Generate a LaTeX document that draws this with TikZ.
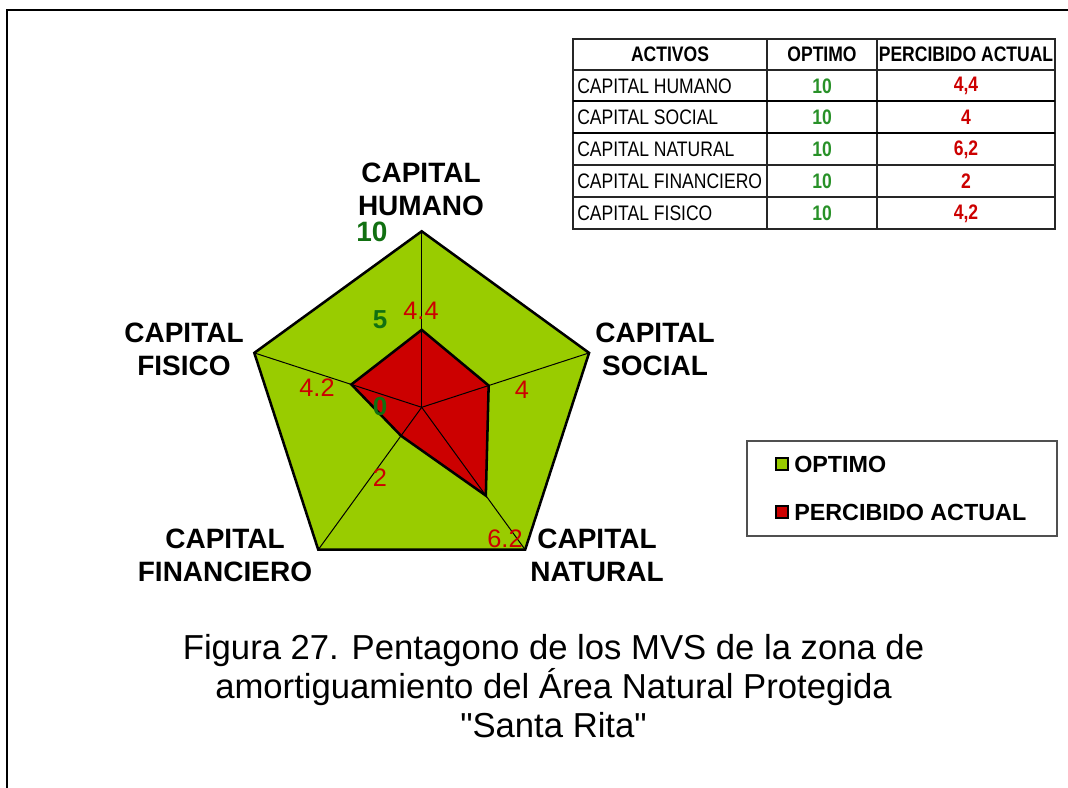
\documentclass[tikz,border=0pt]{standalone}
\usepackage{fontspec}
\setmainfont{Liberation Sans}
\newfontfamily\narrowfont[FakeStretch=0.835]{Liberation Sans}
\newfontfamily\plainquotefont[Ligatures=TeXOff]{Liberation Sans}
\definecolor{optgreen}{RGB}{153,204,0}
\definecolor{actred}{RGB}{204,0,0}
\definecolor{lblgreen}{RGB}{17,112,17}
\definecolor{tabgreen}{RGB}{40,145,40}
\definecolor{legline}{RGB}{80,80,80}
\tikzset{
  axislbl/.style={font=\bfseries\fontsize{21}{24.75}\selectfont, align=center, inner sep=0pt},
  redval/.style={text=actred, font=\fontsize{19}{21}\selectfont, inner sep=0pt},
  greenval/.style={text=lblgreen, font=\bfseries\fontsize{19.5}{22}\selectfont, inner sep=0pt},
  tabtxt/.style={font=\narrowfont\fontsize{15.75}{18}\selectfont, inner sep=0pt},
  tabhead/.style={font=\narrowfont\bfseries\fontsize{15.75}{18}\selectfont, inner sep=0pt},
  tabopt/.style={tabtxt, text=tabgreen, font=\narrowfont\bfseries\fontsize{15.75}{18}\selectfont},
  tabact/.style={tabtxt, text=actred, font=\narrowfont\bfseries\fontsize{15.75}{18}\selectfont},
  tabline/.style={line width=0.8pt, black!85},
  legtxt/.style={font=\bfseries\fontsize{17.5}{20}\selectfont, inner sep=0pt, anchor=west},
  captxt/.style={font=\fontsize{26}{30}\selectfont, inner sep=0pt, anchor=base},
  spoke/.style={line width=0.75pt, black},
  outline/.style={line width=1.9pt, black, line join=miter}
}
\begin{document}
\begin{tikzpicture}[x=0.75pt, y=-0.75pt]
\useasboundingbox (0,0) rectangle (1068,788);
% frame
\draw[line width=1.2pt] (1068,10) -- (7,10) -- (7,788);

% pentagon coordinates
\begin{scope}[shift={(421.7,407.3)}]
  \coordinate (C) at (0,0);
  \coordinate (pH) at (-90:176);
  \coordinate (pS) at (-18:176);
  \coordinate (pN) at (54:176);
  \coordinate (pF) at (126:176);
  \coordinate (pFi) at (198:176);
  \coordinate (aH) at (-90:77.44);
  \coordinate (aS) at (-18:70.4);
  \coordinate (aN) at (54:109.12);
  \coordinate (aF) at (126:35.2);
  \coordinate (aFi) at (198:73.92);
\end{scope}

\fill[optgreen] (pH) -- (pS) -- (pN) -- (pF) -- (pFi) -- cycle;
\fill[actred] (aH) -- (aS) -- (aN) -- (aF) -- (aFi) -- cycle;
\draw[spoke] (C) -- (pH);
\draw[spoke] (C) -- (pS);
\draw[spoke] (C) -- (pN);
\draw[spoke] (C) -- (pF);
\draw[spoke] (C) -- (pFi);
\draw[outline] (aH) -- (aS) -- (aN) -- (aF) -- (aFi) -- cycle;
\draw[outline] (pH) -- (pS) -- (pN) -- (pF) -- (pFi) -- cycle;

% axis labels
\node[axislbl] (lH) at (421,189) {CAPITAL\\HUMANO};
\node[axislbl] (lS) at (655,349.5) {CAPITAL\\SOCIAL};
\node[axislbl] (lN) at (597,555) {CAPITAL\\NATURAL};
\node[axislbl] (lF) at (225,555) {CAPITAL\\FINANCIERO};
\node[axislbl] (lFi) at (184,349) {CAPITAL\\FISICO};

% scale values
\node[text=lblgreen, font=\bfseries\fontsize{21}{24}\selectfont, inner sep=0pt] (v10) at (372,232) {10};
\node[greenval] (v5) at (380,320) {5};
\node[greenval] (v0) at (380,407) {0};

% data values
\node[redval] (dH) at (421,311) {4.4};
\node[redval] (dS) at (522,390) {4};
\node[redval] (dN) at (505,539) {6.2};
\node[redval] (dF) at (380,478) {2};
\node[redval] (dFi) at (317,388) {4.2};

% table
\draw[tabline] (573,39) rectangle (1055,229);
\draw[tabline] (767,39) -- (767,229);
\draw[tabline] (877,39) -- (877,229);
\draw[tabline] (573,70) -- (1055,70);
\draw[line width=1.3pt, black] (573,101) -- (1055,101);
\draw[line width=1.3pt, black] (573,133) -- (1055,133);
\draw[tabline] (573,165) -- (1055,165);
\draw[tabline] (573,197) -- (1055,197);

\node[tabhead] (h1) at (670,54.5) {ACTIVOS};
\node[tabhead] (h2) at (822,54.5) {OPTIMO};
\node[tabhead] (h3) at (966,54.5) {PERCIBIDO ACTUAL};

\node[tabtxt, anchor=west] (r1) at (577,86) {CAPITAL HUMANO};
\node[tabtxt, anchor=west] (r2) at (577,117.5) {CAPITAL SOCIAL};
\node[tabtxt, anchor=west] (r3) at (577,149.5) {CAPITAL NATURAL};
\node[tabtxt, anchor=west] (r4) at (577,181.5) {CAPITAL FINANCIERO};
\node[tabtxt, anchor=west] (r5) at (577,213.5) {CAPITAL FISICO};

\node[tabopt] (o1) at (822,86) {10};
\node[tabopt] (o2) at (822,117.5) {10};
\node[tabopt] (o3) at (822,149.5) {10};
\node[tabopt] (o4) at (822,181.5) {10};
\node[tabopt] (o5) at (822,213.5) {10};

\node[tabact] (p1) at (966,86) {4,4};
\node[tabact] (p2) at (966,117.5) {4};
\node[tabact] (p3) at (966,149.5) {6,2};
\node[tabact] (p4) at (966,181.5) {2};
\node[tabact] (p5) at (966,213.5) {4,2};

% legend
\draw[legline, line width=0.8pt] (747,441) rectangle (1057,536);
\draw[fill=optgreen, line width=0.9pt] (776,458) rectangle (788,470);
\draw[fill=actred, line width=0.9pt] (776,506) rectangle (788,518);
\node[legtxt] (leg1) at (794,464) {OPTIMO};
\node[legtxt] (leg2) at (794,512) {PERCIBIDO ACTUAL};

% caption
\node[captxt] (cap1) at (553.5,659) {Figura 27. Pentagono de los MVS de la zona de};
\node[captxt] (cap2) at (553.5,698) {amortiguamiento del Área Natural Protegida};
\node[captxt] (cap3) at (553.5,737) {\plainquotefont "Santa Rita"};
\end{tikzpicture}
\end{document}
